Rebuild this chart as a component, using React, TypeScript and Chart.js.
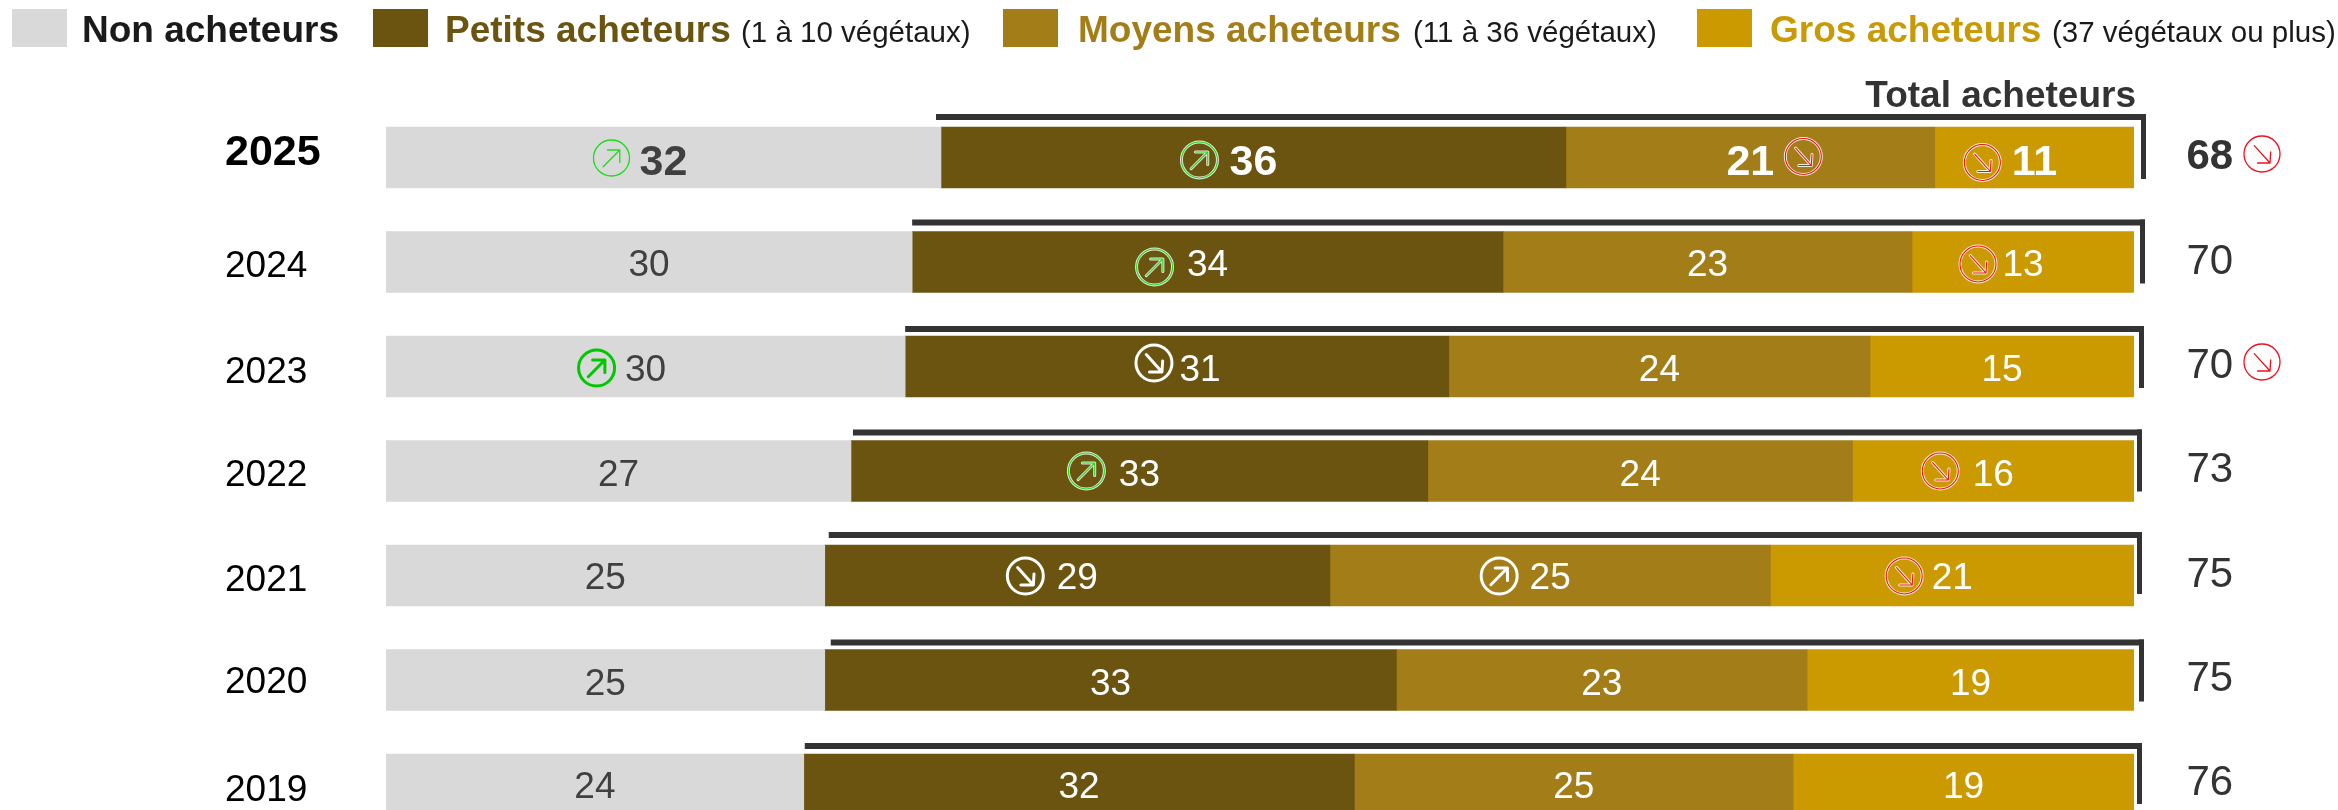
import React, { useEffect, useRef } from "react";
import { Chart, registerables } from "chart.js";

Chart.register(...registerables);

// ---------- data ----------
const years = ["2025", "2024", "2023", "2022", "2021", "2020", "2019"];
const nonAcheteurs = [31.75, 30.1, 29.7, 26.6, 25.1, 25.1, 23.9];
const petits = [35.75, 33.8, 31.1, 33.0, 28.9, 32.7, 31.5];
const moyens = [21.1, 23.4, 24.1, 24.3, 25.2, 23.5, 25.1];
const gros = [11.4, 12.7, 15.1, 16.1, 20.8, 18.7, 19.5];
const nonLabels = ["32", "30", "30", "27", "25", "25", "24"];
const petitsLabels = ["36", "34", "31", "33", "29", "33", "32"];
const moyensLabels = ["21", "23", "24", "24", "25", "23", "25"];
const grosLabels = ["11", "13", "15", "16", "21", "19", "19"];
const totals = ["68", "70", "70", "73", "75", "75", "76"];
const totalTitle = "Total acheteurs";

const seriesNames = ["Non acheteurs", "Petits acheteurs", "Moyens acheteurs", "Gros acheteurs"];
const seriesNotes = ["", "(1 à 10 végétaux)", "(11 à 36 végétaux)", "(37 végétaux ou plus)"];
const seriesColors = ["#D9D9D9", "#6B5310", "#A37D18", "#CB9900"];

// ---------- layout / style ----------
const FONT = '"Liberation Sans", Arial, sans-serif';
const DARK = "#333333";
const TEXT = "#404040";
const legendLayout = [
  { box: 12, text: 82, note: 0, color: "#1A1A1A" },
  { box: 373, text: 445, note: 741, color: "#6B5310" },
  { box: 1003, text: 1078, note: 1413, color: "#A37D18" },
  { box: 1697, text: 1770, note: 2052, color: "#C89A06" },
];
const yearBaseline = [7.5, 15, 16.5, 15, 15.5, 13, 16.5];
const bracketRaise = [13, 12, 10, 11, 13, 10, 11];
const bracketLeft = [-5, 0, 0, 2, 4, 6, 1];
const bracketRight = [12, 11, 10, 8, 8, 10, 8];
const bracketDrop = [52, 52, 52, 51, 49, 52, 50];
const labelBaseline = [17.5, 14, 14, 14.5, 13.5, 15, 13.5];
const totalBaseline = [11.5, 12, 11.5, 11, 11.5, 11, 10.5];

type Icon = { row: number; col: number; dir: "up" | "down"; look: "thin" | "bold" | "halo" | "white"; dx: number; dy: number };
const icons: Icon[] = [
  { row: 0, col: 0, dir: "up", look: "thin", dx: -52, dy: 0.5 },
  { row: 0, col: 1, dir: "up", look: "halo", dx: -54, dy: 2.5 },
  { row: 0, col: 2, dir: "down", look: "halo", dx: 53, dy: -1 },
  { row: 0, col: 3, dir: "down", look: "halo", dx: -52, dy: 5 },
  { row: 1, col: 1, dir: "up", look: "halo", dx: -53, dy: 5 },
  { row: 1, col: 3, dir: "down", look: "halo", dx: -45, dy: 2 },
  { row: 2, col: 0, dir: "up", look: "bold", dx: -49, dy: 1.5 },
  { row: 2, col: 1, dir: "down", look: "white", dx: -23, dy: -3.5 },
  { row: 3, col: 1, dir: "up", look: "halo", dx: -53, dy: 0 },
  { row: 3, col: 3, dir: "down", look: "halo", dx: -53, dy: 0 },
  { row: 4, col: 1, dir: "down", look: "white", dx: -52, dy: 0.5 },
  { row: 4, col: 2, dir: "up", look: "white", dx: -51, dy: 0.5 },
  { row: 4, col: 3, dir: "down", look: "halo", dx: -48, dy: 0.5 },
];
const totalIcons = [
  { row: 0, dy: -3.5 },
  { row: 2, dy: -4.5 },
];
const labelShift: Record<string, number> = { "2-1": 23 };

function drawIconPath(ctx: CanvasRenderingContext2D, x: number, y: number, dir: "up" | "down") {
  ctx.beginPath();
  ctx.arc(x, y, 18, 0, Math.PI * 2);
  if (dir === "up") {
    ctx.moveTo(x - 8.3, y + 8.7);
    ctx.lineTo(x + 8.3, y - 8);
    ctx.moveTo(x - 4, y - 8);
    ctx.lineTo(x + 8.3, y - 8);
    ctx.lineTo(x + 8.3, y + 4.5);
  } else {
    ctx.moveTo(x - 7.7, y - 8.4);
    ctx.lineTo(x + 8, y + 9);
    ctx.moveTo(x - 4.5, y + 9);
    ctx.lineTo(x + 8, y + 9);
    ctx.lineTo(x + 8.7, y - 2);
  }
}

function drawIcon(ctx: CanvasRenderingContext2D, x: number, y: number, dir: "up" | "down", look: string) {
  const color = dir === "up" ? (look === "bold" ? "#00C800" : "#1CDC1C") : "#EE1020";
  ctx.save();
  ctx.lineCap = "round";
  ctx.lineJoin = "round";
  drawIconPath(ctx, x, y, dir);
  if (look === "white") {
    ctx.strokeStyle = "#FFFFFF";
    ctx.lineWidth = 3;
    ctx.stroke();
  } else if (look === "bold") {
    ctx.strokeStyle = color;
    ctx.lineWidth = 3;
    ctx.stroke();
  } else if (look === "halo") {
    ctx.strokeStyle = "#FFFFFF";
    ctx.lineWidth = 3;
    ctx.globalAlpha = 0.85;
    ctx.stroke();
    ctx.globalAlpha = 1;
    ctx.strokeStyle = color;
    ctx.lineWidth = 1.1;
    ctx.stroke();
  } else {
    ctx.strokeStyle = color;
    ctx.lineWidth = 1.3;
    ctx.stroke();
  }
  ctx.restore();
}

const overlay = {
  id: "overlay",
  afterDatasetsDraw(chart: any) {
    const ctx: CanvasRenderingContext2D = chart.ctx;
    const xs = chart.scales.x;
    const ys = chart.scales.y;
    const cols = [nonAcheteurs, petits, moyens, gros];
    const labels = [nonLabels, petitsLabels, moyensLabels, grosLabels];
    ctx.save();
    ctx.textAlign = "left";
    ctx.textBaseline = "alphabetic";

    // legend
    seriesNames.forEach((name, i) => {
      const l = legendLayout[i];
      ctx.fillStyle = seriesColors[i];
      ctx.fillRect(l.box, 9, 55, 38);
      ctx.fillStyle = l.color;
      ctx.font = `bold 37px ${FONT}`;
      ctx.fillText(name, l.text, 42);
      if (seriesNotes[i]) {
        ctx.fillStyle = "#1A1A1A";
        ctx.font = `29.5px ${FONT}`;
        ctx.fillText(seriesNotes[i], l.note, 42);
      }
    });

    // total title
    ctx.fillStyle = DARK;
    ctx.font = `bold 37px ${FONT}`;
    ctx.textAlign = "right";
    ctx.fillText(totalTitle, 2136, 107);

    years.forEach((year, row) => {
      const yc = ys.getPixelForValue(row);
      const top = yc - 30.5;
      const bold = row === 0;

      // year
      ctx.textAlign = "left";
      ctx.fillStyle = "#000000";
      ctx.font = `${bold ? "bold 43px" : "37px"} ${FONT}`;
      ctx.fillText(year, 225, yc + yearBaseline[row]);

      // bracket
      const bx0 = xs.getPixelForValue(nonAcheteurs[row]) + bracketLeft[row];
      const bx1 = xs.getPixelForValue(100) + bracketRight[row];
      const by0 = top - bracketRaise[row];
      ctx.fillStyle = DARK;
      ctx.fillRect(bx0, by0, bx1 - bx0, 6);
      ctx.fillRect(bx1 - 5, by0, 5, bracketDrop[row] + bracketRaise[row]);

      // segment labels
      ctx.textAlign = "center";
      let acc = 0;
      cols.forEach((col, c) => {
        const cx = xs.getPixelForValue(acc + col[row] / 2);
        acc += col[row];
        const shift = labelShift[`${row}-${c}`] || 0;
        ctx.font = `${bold ? "bold 43px" : "37px"} ${FONT}`;
        ctx.fillStyle = c === 0 ? TEXT : "#FFFFFF";
        ctx.fillText(labels[c][row], cx + shift, yc + labelBaseline[row]);
      });

      // total
      ctx.textAlign = "left";
      ctx.fillStyle = DARK;
      ctx.font = `${bold ? "bold 42px" : "42px"} ${FONT}`;
      ctx.fillText(totals[row], xs.getPixelForValue(100) + 52.5, yc + totalBaseline[row]);
    });

    // trend icons
    icons.forEach((ic) => {
      let acc = 0;
      for (let c = 0; c < ic.col; c++) acc += cols[c][ic.row];
      const cx = xs.getPixelForValue(acc + cols[ic.col][ic.row] / 2);
      drawIcon(ctx, cx + ic.dx, ys.getPixelForValue(ic.row) + ic.dy, ic.dir, ic.look);
    });
    totalIcons.forEach((t) => {
      drawIcon(ctx, xs.getPixelForValue(100) + 128, ys.getPixelForValue(t.row) + t.dy, "down", "thin");
    });
    ctx.restore();
  },
};

export default function App() {
  const ref = useRef<HTMLCanvasElement>(null);
  useEffect(() => {
    const chart = new Chart(ref.current as HTMLCanvasElement, {
      type: "bar",
      plugins: [overlay],
      data: {
        labels: years,
        datasets: [nonAcheteurs, petits, moyens, gros].map((d, i) => ({
          label: seriesNames[i],
          data: d,
          backgroundColor: seriesColors[i],
          barThickness: 61,
          borderWidth: 0,
        })),
      },
      options: {
        indexAxis: "y",
        responsive: false,
        animation: false,
        devicePixelRatio: 1,
        layout: { padding: { left: 386, right: 204, top: 105.25, bottom: 3.25 } },
        plugins: { legend: { display: false }, tooltip: { enabled: false }, title: { display: false } },
        scales: {
          x: { stacked: true, min: 0, max: 100, display: false },
          y: { stacked: true, display: false },
        },
      },
    } as any);
    return () => chart.destroy();
  }, []);
  return (
    <div style={{ position: "absolute", left: 0, top: 0, width: 2338, height: 810, overflow: "hidden", background: "#fff" }}>
      <canvas ref={ref} width={2338} height={840} style={{ display: "block" }} />
    </div>
  );
}
